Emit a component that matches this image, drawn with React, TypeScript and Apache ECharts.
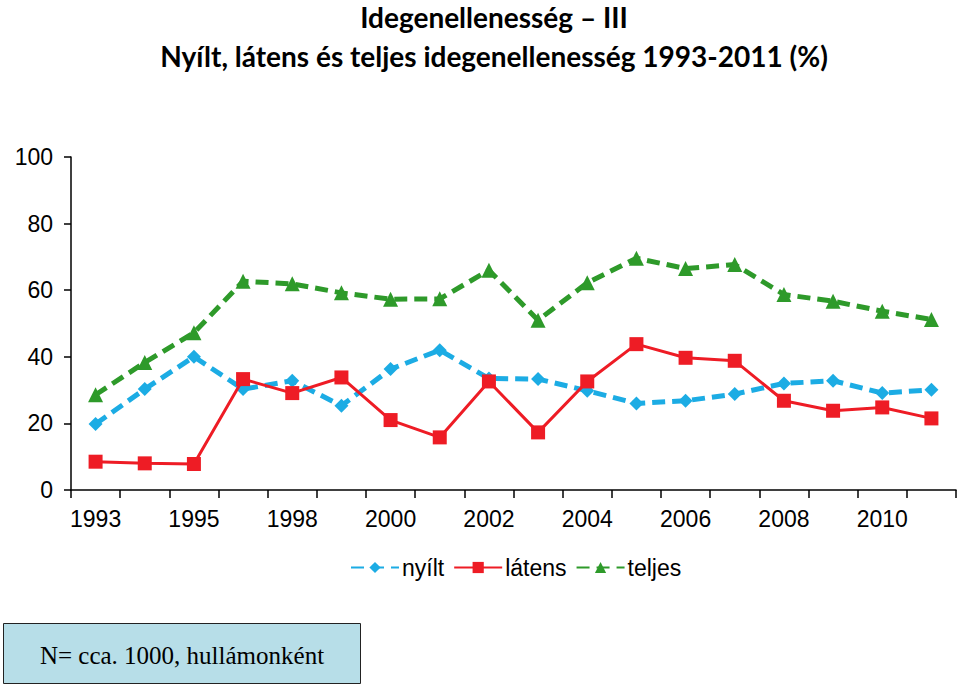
import React, { useEffect, useRef } from "react";
import * as echarts from "echarts";

const categories = [
  "1993", "1994", "1995", "1997", "1998", "1999", "2000", "2001", "2002",
  "2003", "2004", "2005", "2006", "2007", "2008", "2009", "2010", "2011",
];
const nyilt = [19.8, 30.3, 40, 30.3, 32.8, 25.3, 36.3, 42, 33.5, 33.3, 29.8, 26, 26.8, 28.8, 32, 32.8, 29.1, 30.1];
const latens = [8.5, 8.0, 7.8, 33.3, 29.1, 33.8, 21, 15.8, 32.6, 17.3, 32.6, 43.8, 39.7, 38.8, 26.8, 23.8, 24.8, 21.5];
const teljes = [28.6, 38.3, 47.2, 62.7, 61.9, 59.2, 57.3, 57.4, 66, 51, 62.2, 69.6, 66.5, 67.7, 58.7, 56.7, 53.7, 51.2];
const seriesNames = ["nyílt", "látens", "teljes"];
const titleLine1 = "Idegenellenesség – III";
const titleLine2 = "Nyílt, látens és teljes idegenellenesség 1993-2011 (%)";
const noteText = "N= cca. 1000, hullámonként";

export default function App() {
  const ref = useRef<HTMLDivElement>(null);
  useEffect(() => {
    if (!ref.current) return;
    const chart = echarts.init(ref.current, null, { renderer: "svg" });
    const axisFont = { fontFamily: "'Liberation Sans', Arial, sans-serif", fontSize: 23, color: "#000" };
    chart.setOption({
      animation: false,
      backgroundColor: "#fff",
      grid: { left: 71, right: 4, top: 157, bottom: 196, containLabel: false },
      xAxis: {
        type: "category",
        data: categories,
        boundaryGap: true,
        axisLine: { lineStyle: { color: "#000", width: 1.5 } },
        axisTick: { show: true, interval: 0, length: 8, inside: false, lineStyle: { color: "#000", width: 1.5 } },
        axisLabel: { interval: 1, margin: 17, ...axisFont },
        splitLine: { show: false },
      },
      yAxis: {
        type: "value",
        min: 0,
        max: 100,
        interval: 20,
        axisLine: { show: true, lineStyle: { color: "#000", width: 1.5 } },
        axisTick: { show: true, length: 7, lineStyle: { color: "#000", width: 1.5 } },
        axisLabel: { margin: 18, ...axisFont },
        splitLine: { show: false },
      },
      legend: {
        left: 345,
        top: 551,
        itemWidth: 48,
        itemHeight: 14,
        itemGap: 9,
        textStyle: { fontFamily: "'Liberation Sans', Arial, sans-serif", fontSize: 23, color: "#000", padding: [0, 0, 0, -2] },
        data: seriesNames,
      },
      series: [
        {
          name: seriesNames[0],
          type: "line",
          data: nyilt,
          symbol: "diamond",
          symbolSize: 14,
          color: "#1CACE4",
          lineStyle: { width: 5, type: [13, 7], color: "#1CACE4" },
          itemStyle: { color: "#1CACE4" },
          z: 3,
        },
        {
          name: seriesNames[1],
          type: "line",
          data: latens,
          symbol: "rect",
          symbolSize: 14,
          color: "#EE1C25",
          lineStyle: { width: 3, color: "#EE1C25" },
          itemStyle: { color: "#EE1C25" },
          z: 4,
        },
        {
          name: seriesNames[2],
          type: "line",
          data: teljes,
          symbol: "triangle",
          symbolSize: 15,
          color: "#2E9A2A",
          lineStyle: { width: 5, type: [13, 7], color: "#2E9A2A" },
          itemStyle: { color: "#2E9A2A" },
          z: 2,
        },
      ],
      graphic: [
        {
          type: "text",
          x: 494,
          y: 17,
          style: {
            text: titleLine1,
            fontFamily: "Lato, 'Open Sans', sans-serif",
            fontWeight: "bold",
            fontSize: 28,
            fill: "#000",
            textAlign: "center",
            textVerticalAlign: "middle",
          },
        },
        {
          type: "text",
          x: 494,
          y: 56,
          style: {
            text: titleLine2,
            fontFamily: "Lato, 'Open Sans', sans-serif",
            fontWeight: "bold",
            fontSize: 28,
            fill: "#000",
            textAlign: "center",
            textVerticalAlign: "middle",
          },
        },
        {
          type: "rect",
          shape: { x: 3.5, y: 623.5, width: 357, height: 60 },
          style: { fill: "#B7DEE8", stroke: "#222", lineWidth: 1 },
        },
        {
          type: "text",
          x: 182,
          y: 655,
          style: {
            text: noteText,
            fontFamily: "'Liberation Serif', 'Times New Roman', serif",
            fontSize: 25,
            fill: "#000",
            textAlign: "center",
            textVerticalAlign: "middle",
          },
        },
      ],
    });
    return () => chart.dispose();
  }, []);
  return <div ref={ref} style={{ width: 960, height: 686, position: "fixed", left: 0, top: 0 }} />;
}
